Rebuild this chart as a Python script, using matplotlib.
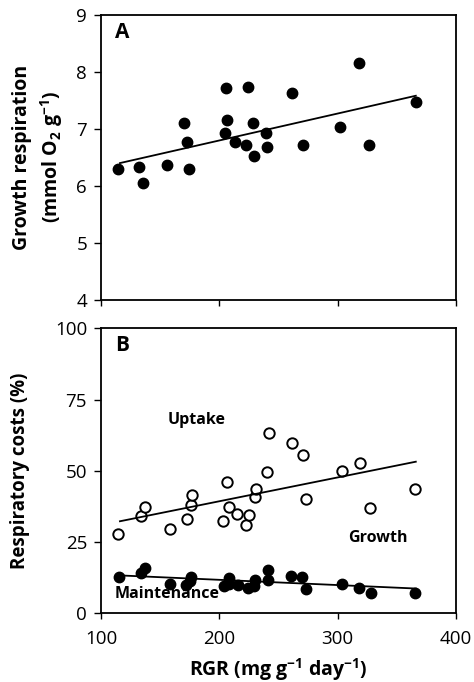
import matplotlib
matplotlib.use("Agg")
import matplotlib.pyplot as plt

plt.rcParams["font.family"] = ["Open Sans", "DejaVu Sans"]
plt.rcParams["mathtext.default"] = "regular"

# Panel A: growth respiration vs RGR
rgr_a = [114.6, 131.9, 135.8, 155.5, 169.9, 173.0, 174.7, 205.2, 206.3, 204.6,
         213.6, 224.1, 222.9, 228.3, 229.1, 239.0, 240.4, 261.3, 270.5, 301.8,
         317.9, 326.1, 366.2]
growth_resp = [6.30, 6.33, 6.05, 6.37, 7.11, 6.77, 6.30, 7.71, 7.16, 6.92,
               6.77, 7.73, 6.71, 7.11, 6.52, 6.92, 6.69, 7.63, 6.72, 7.04,
               8.15, 6.71, 7.47]
fit_x = [116, 366]
fit_a = [6.40, 7.58]

# Panel B: respiratory costs (%)
rgr_uptake = [114.6, 133.5, 137.2, 158.0, 172.7, 176.0, 176.9, 203.4, 206.5, 207.9,
              215.2, 222.5, 224.8, 229.9, 230.7, 240.3, 242.3, 261.4, 270.7, 273.0,
              303.9, 318.6, 327.6, 365.4]
uptake = [28.0, 34.0, 37.2, 29.5, 33.2, 37.9, 41.5, 32.3, 46.0, 37.3,
          35.0, 31.1, 34.4, 40.9, 43.5, 49.7, 63.3, 59.9, 55.6, 40.0,
          50.1, 52.9, 37.1, 43.5]
rgr_maint = [114.9, 133.8, 137.5, 158.6, 171.8, 175.2, 176.3, 203.7, 207.9, 208.5,
             215.8, 224.0, 229.3, 229.9, 241.0, 241.0, 260.8, 269.9, 273.5, 303.7,
             318.3, 327.9, 365.1]
maintenance = [12.6, 14.0, 15.8, 10.4, 9.9, 11.3, 12.7, 9.6, 12.3, 10.4,
               9.9, 8.8, 9.7, 11.8, 15.1, 11.8, 13.0, 12.6, 8.7, 10.4,
               8.8, 7.0, 7.0]
fit_uptake = [32.3, 53.2]
fit_maint = [13.3, 8.7]

fig = plt.figure(figsize=(4.74, 6.82), dpi=100)
ax_a = fig.add_axes([0.2131, 0.5601, 0.7490, 0.4183])
ax_b = fig.add_axes([0.2131, 0.1007, 0.7490, 0.4179])

for ax in (ax_a, ax_b):
    for spine in ax.spines.values():
        spine.set_linewidth(1.3)
    ax.set_xlim(100, 400)
    ax.set_xticks([100, 200, 300, 400])
    ax.tick_params(axis="y", direction="out", length=5, width=1.0, pad=5, labelsize=13.5)
    ax.tick_params(axis="x", direction="out", length=4, width=1.0, pad=8, labelsize=13.5)

ax_a.plot(rgr_a, growth_resp, "o", color="black", markersize=7.5)
ax_a.plot(fit_x, fit_a, color="black", linewidth=1.3)
ax_a.set_ylim(4, 9)
ax_a.set_yticks([4, 5, 6, 7, 8, 9])
ax_a.set_xticklabels([])
ax_a.set_ylabel("Growth respiration\n(mmol O$_2$ g$^{-1}$)", fontsize=14,
                fontweight="bold", linespacing=1.3, labelpad=8)
ax_a.text(0.04, 0.975, "A", transform=ax_a.transAxes, fontsize=15,
          fontweight="bold", va="top", ha="left")

ax_b.plot(rgr_uptake, uptake, "o", markerfacecolor="white", markeredgecolor="black",
          markeredgewidth=1.4, markersize=7.5)
ax_b.plot(fit_x, fit_uptake, color="black", linewidth=1.3)
ax_b.plot(rgr_maint, maintenance, "o", color="black", markersize=7.5)
ax_b.plot(fit_x, fit_maint, color="black", linewidth=1.3)
ax_b.set_ylim(0, 100)
ax_b.set_yticks([0, 25, 50, 75, 100])
ax_b.set_ylabel("Respiratory costs (%)", fontsize=13.5, fontweight="bold", labelpad=18)
ax_b.set_xlabel("RGR (mg g$^{-1}$ day$^{-1}$)", fontsize=14, fontweight="bold", labelpad=6)
ax_b.text(0.04, 0.975, "B", transform=ax_b.transAxes, fontsize=15,
          fontweight="bold", va="top", ha="left")
ax_b.text(181, 68, "Uptake", fontsize=11.5, fontweight="bold", ha="center", va="center")
ax_b.text(334, 26.5, "Growth", fontsize=11.5, fontweight="bold", ha="center", va="center")
ax_b.text(156, 6.8, "Maintenance", fontsize=11.5, fontweight="bold", ha="center", va="center")

fig.savefig("out.png", dpi=100)
